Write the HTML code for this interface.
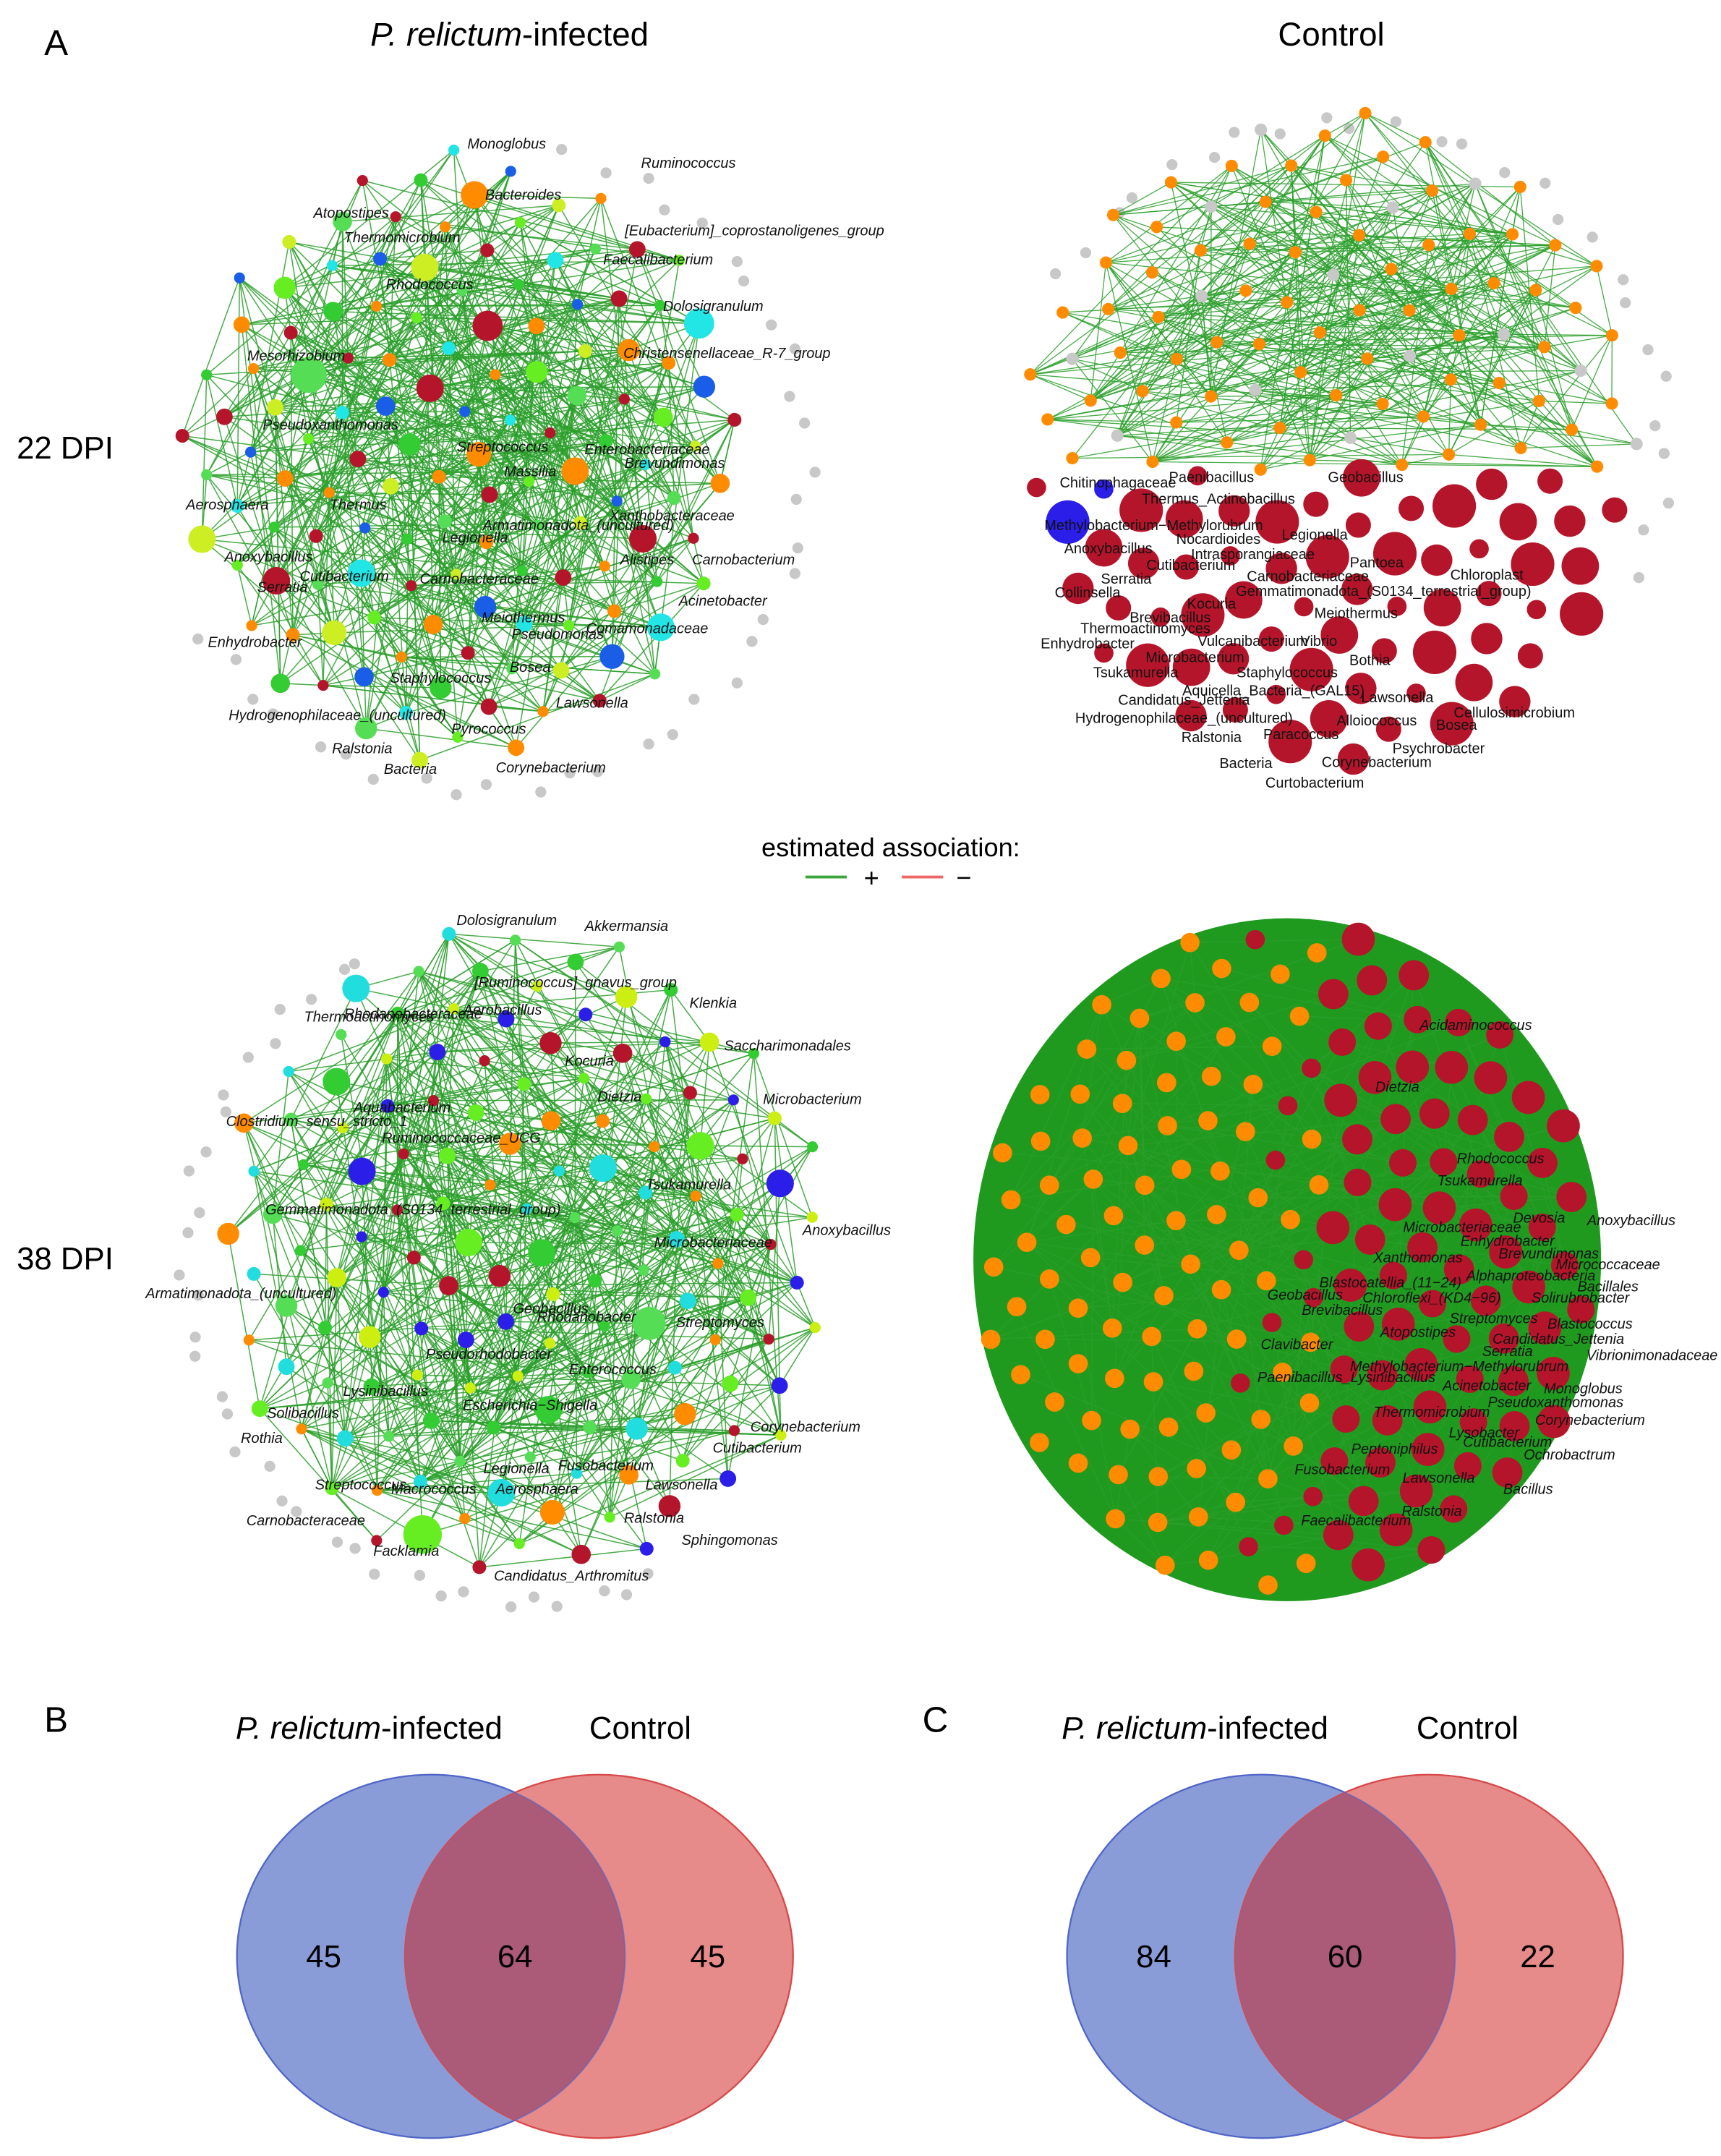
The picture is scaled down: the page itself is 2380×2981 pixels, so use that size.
<!DOCTYPE html>
<html><head><meta charset="utf-8"><title>Network figure</title>
<style>
html,body{margin:0;padding:0;background:#fff;}
svg{display:block;}
text{font-family:"Liberation Sans",sans-serif;}
.lab{font-size:10.5px;font-style:italic;fill:#111;}
.lab2{font-size:10.5px;fill:#111;}
</style></head>
<body>
<svg id="fig" width="2380" height="2981" viewBox="0 0 1250 1566" xmlns="http://www.w3.org/2000/svg">
<text x="32" y="40" font-size="26">A</text>
<text x="370" y="33" font-size="24" text-anchor="middle"><tspan font-style="italic">P. relictum</tspan>-infected</text>
<text x="967" y="33" font-size="24" text-anchor="middle">Control</text>
<text x="12" y="333" font-size="23">22 DPI</text>
<text x="12" y="922" font-size="23">38 DPI</text>
<g id="nets"></g>
<g>
<text x="647" y="622" font-size="19" text-anchor="middle">estimated association:</text>
<line x1="585" y1="637" x2="615" y2="637" stroke="#3aa53a" stroke-width="2"/>
<text x="633" y="644" font-size="19" text-anchor="middle">+</text>
<line x1="655" y1="637" x2="685" y2="637" stroke="#ee6666" stroke-width="2"/>
<text x="700" y="644" font-size="19" text-anchor="middle">−</text>
</g>
<text x="32" y="1258" font-size="26">B</text>
<text x="670" y="1258" font-size="26">C</text>
<g id="venns"></g>
</svg>
<script>
// Venn data
const vennSets = ["P. relictum-infected", "Control"];
const vennB = [45, 64, 45];
const vennC = [84, 60, 22];

// network node counts & labels
const net1Count = 130, net2Count = 150, net3Count = 140, net4Count = 175;
const net1Palette = ["#ff8c00","#b5152b","#33cc33","#ff8c00","#66ee22","#22e5e5","#1a5ee8","#ccee22","#55dd55","#b5152b"];
const net3Palette = ["#33cc33","#ccee11","#2a1ee8","#b5152b","#66ee22","#ff8c00","#22dddd","#55dd55"];
const net1Labels = [["Monoglobus",368,108],["Ruminococcus",500,122],["Bacteroides",380,145],["Atopostipes",255,158],["Thermomicrobium",292,176],["[Eubacterium]_coprostanoligenes_group",548,171],["Faecalibacterium",478,192],["Rhodococcus",312,210],["Dolosigranulum",518,226],["Mesorhizobium",215,262],["Christensenellaceae_R-7_group",528,260],["Pseudoxanthomonas",240,312],["Streptococcus",365,328],["Enterobacteriaceae",470,330],["Massilia",385,346],["Brevundimonas",490,340],["Aerosphaera",165,370],["Thermus",260,370],["Xanthobacteraceae",488,378],["Armatimonadota_(uncultured)",420,385],["Legionella",345,394],["Anoxybacillus",195,408],["Alistipes",470,410],["Carnobacterium",540,410],["Cutibacterium",250,422],["Carnobacteraceae",348,424],["Serratia",205,430],["Acinetobacter",525,440],["Meiothermus",380,452],["Comamonadaceae",470,460],["Enhydrobacter",185,470],["Pseudomonas",405,464],["Staphylococcus",320,496],["Bosea",385,488],["Lawsonella",430,514],["Hydrogenophilaceae_(uncultured)",245,523],["Pyrococcus",355,533],["Ralstonia",263,547],["Corynebacterium",400,561],["Bacteria",298,562]];
const net2Labels = [["Chitinophagaceae",812,354],["Paenibacillus",880,350],["Geobacillus",992,350],["Thermus_Actinobacillus",885,366],["Methylobacterium−Methylorubrum",838,385],["Legionella",955,392],["Anoxybacillus",805,402],["Nocardioides",885,395],["Intrasporangiaceae",910,406],["Cutibacterium",865,414],["Pantoea",1000,412],["Carnobacteriaceae",950,422],["Chloroplast",1080,421],["Serratia",818,424],["Gemmatimonadota_(S0134_terrestrial_group)",1005,433],["Collinsella",790,434],["Kocuria",880,442],["Brevibacillus",850,452],["Meiothermus",985,449],["Thermoactinomyces",832,460],["Vulcanibacterium",910,469],["Vibrio",958,469],["Enhydrobacter",790,471],["Microbacterium",868,481],["Bothia",995,483],["Tsukamurella",825,492],["Staphylococcus",935,492],["Aquicella_Bacteria_(GAL15)",925,505],["Candidatus_Jettenia",860,512],["Lawsonella",1015,510],["Cellulosimicrobium",1100,521],["Hydrogenophilaceae_(uncultured)",860,525],["Alloiococcus",1000,527],["Bosea",1058,530],["Ralstonia",880,539],["Paracoccus",945,537],["Psychrobacter",1045,547],["Corynebacterium",1000,557],["Bacteria",905,558],["Curtobacterium",955,572]];
const net3Labels = [["Dolosigranulum",368,672],["Akkermansia",455,676],["[Ruminococcus]_gnavus_group",418,717],["Klenkia",518,732],["Thermoactinomyces",268,742],["Rhodanobacteraceae",300,740],["Aerobacillus",365,737],["Saccharimonadales",572,763],["Kocuria",428,774],["Dietzia",450,800],["Microbacterium",590,802],["Aquabacterium",292,808],["Clostridium_sensu_stricto_1",230,818],["Ruminococcaceae_UCG",335,830],["Tsukamurella",500,864],["Gemmatimonadota_(S0134_terrestrial_group)",300,882],["Anoxybacillus",615,897],["Microbacteriaceae",518,906],["Armatimonadota_(uncultured)",175,943],["Geobacillus",400,954],["Rhodanobacter",426,960],["Streptomyces",523,964],["Pseudorhodobacter",355,987],["Enterococcus",445,998],["Lysinibacillus",280,1014],["Escherichia−Shigella",385,1024],["Solibacillus",220,1030],["Corynebacterium",585,1040],["Rothia",190,1048],["Cutibacterium",550,1055],["Legionella",375,1070],["Fusobacterium",440,1068],["Streptococcus",262,1082],["Macrococcus",315,1085],["Aerosphaera",390,1085],["Lawsonella",495,1082],["Carnobacteraceae",222,1108],["Ralstonia",475,1106],["Sphingomonas",530,1122],["Facklamia",295,1130],["Candidatus_Arthromitus",415,1148]];
const net4Labels = [["Acidaminococcus",1072,748],["Dietzia",1015,793],["Rhodococcus",1090,845],["Tsukamurella",1075,861],["Microbacteriaceae",1062,895],["Devosia",1118,888],["Anoxybacillus",1185,890],["Enhydrobacter",1095,905],["Xanthomonas",1030,917],["Brevundimonas",1125,914],["Micrococcaceae",1168,922],["Alphaproteobacteria",1112,930],["Blastocatellia_(11−24)",1010,935],["Bacillales",1168,938],["Geobacillus",948,944],["Chloroflexi_(KD4−96)",1040,946],["Solirubrobacter",1148,946],["Brevibacillus",975,955],["Streptomyces",1085,961],["Blastococcus",1155,965],["Candidatus_Jettenia",1132,976],["Atopostipes",1030,971],["Serratia",1095,985],["Vibrionimonadaceae",1200,988],["Clavibacter",942,980],["Methylobacterium−Methylorubrum",1060,996],["Paenibacillus_Lysinibacillus",978,1004],["Acinetobacter",1080,1010],["Monoglobus",1150,1012],["Pseudoxanthomonas",1130,1022],["Thermomicrobium",1040,1029],["Corynebacterium",1155,1035],["Lysobacter",1078,1044],["Cutibacterium",1095,1051],["Peptoniphilus",1013,1056],["Ochrobactrum",1140,1060],["Fusobacterium",975,1071],["Lawsonella",1045,1077],["Bacillus",1110,1085],["Ralstonia",1040,1101],["Faecalibacterium",985,1108]];
const nodeSizes = [4,5,4,6,8,4,5,10,4,6,4,5,7,4];

const NS="http://www.w3.org/2000/svg";
function mk(tag,attrs,parent){const e=document.createElementNS(NS,tag);for(const k in attrs)e.setAttribute(k,attrs[k]);parent.appendChild(e);return e;}
function layout(n,cx,cy,rx,ry){const pts=[];for(let i=0;i<n;i++){const r=Math.sqrt((i+0.5)/n);const t=i*2.39996;pts.push([cx+rx*r*Math.cos(t),cy+ry*r*Math.sin(t)]);}return pts;}
const nets=document.getElementById('nets');

function drawNet(name,pts,colorFn,sizeFn,edgeOffsets,maxD,edgeFilter,labels,cls,ew){
  const g=mk('g',{},nets);
  
  
  const eg=mk('g',{stroke:'#2a9f2a','stroke-width':ew||0.7,'stroke-opacity':0.85},g);
  const n=pts.length;
  for(let i=0;i<n;i++){for(const o of edgeOffsets){const j=(i*7+o)%n;if(j===i)continue;
    const a=pts[i],b=pts[j];const d=Math.hypot(a[0]-b[0],a[1]-b[1]);
    if(d<maxD&&edgeFilter(i,j)){const l=mk('line',{x1:a[0],y1:a[1],x2:b[0],y2:b[1]},eg);}}}
  const ng=mk('g',{},g);
  pts.forEach((p,i)=>{const c=mk('circle',{cx:p[0],cy:p[1],r:sizeFn(i,p),fill:colorFn(i,p)},ng);
    
    });
  labels.forEach(L=>{const t=mk('text',{x:L[1],y:L[2],'text-anchor':'middle','class':cls},g);t.textContent=L[0];
    
    });
}
function grayRing(cx,cy,R,count,a0,a1){const g=mk('g',{fill:'#c8c8c8'},nets);
  for(let k=0;k<count;k++){const t=a0+(a1-a0)*k/(count-1);const c=mk('circle',{cx:cx+R*Math.cos(t)+(k%3)*6,cy:cy+R*Math.sin(t)+(k%2)*8,r:4},g);
    
    }}

// Network 1 (22 DPI infected)
grayRing(345,335,235,34,-1.3,2.6);
const p1=layout(net1Count,335,330,205,225);
drawNet('network-22dpi-infected',p1,(i)=>net1Palette[(i*3)%net1Palette.length],(i)=>nodeSizes[i%nodeSizes.length]+(i%23===0?5:0),[3,11,29,53,67,89,101],280,()=>true,net1Labels,'lab',0.8);

// Network 2 (22 DPI control)
grayRing(968,320,235,26,-2.6,0.4);
const p2=layout(net2Count,968,318,225,240);
drawNet('network-22dpi-control',p2,(i,p)=>p[1]>345?(i%17===0?'#2a1ee8':'#b5152b'):(i%6===0?'#c8c8c8':'#ff8c00'),(i,p)=>p[1]>345?7+(i%5)*2.2:4.5,[3,11,29,53,71,97,113,131],360,(i,j)=>p2[i][1]<345&&p2[j][1]<345,net2Labels,'lab2',0.7);

// Network 3 (38 DPI infected)
grayRing(380,910,250,34,1.2,4.2);
const p3=layout(net3Count,380,910,225,240);
drawNet('network-38dpi-infected',p3,(i)=>net3Palette[(i*3)%net3Palette.length],(i)=>nodeSizes[(i+3)%nodeSizes.length]+(i%29===0?4:0),[5,13,31,47,61,83,107],280,()=>true,net3Labels,'lab',0.8);

// Network 4 (38 DPI control)
mk('ellipse',{cx:935,cy:915,rx:228,ry:248,fill:'#1f9a1f',},nets);
const p4=layout(net4Count,935,915,222,245);
drawNet('network-38dpi-control',p4,(i,p)=>p[0]>960?'#b5152b':(p[0]>900&&i%3===0?'#b5152b':'#ff8c00'),(i,p)=>p[0]>960?10+(i%3):7,[3,11,29,53],200,()=>true,net4Labels,'lab');

// Venns
const vg=document.getElementById('venns');
function venn(name,cxL,cxR,vals,titleX1,titleX2){
  const g=mk('g',{},vg);
  
  
  const t1=mk('text',{x:titleX1,y:1263,'font-size':23,'text-anchor':'middle'},g);
  t1.innerHTML='<tspan font-style="italic">P. relictum</tspan>-infected';
  
  
  const t2=mk('text',{x:titleX2,y:1263,'font-size':23,'text-anchor':'middle'},g);t2.textContent=vennSets[1];
  
  
  const a=mk('ellipse',{cx:cxL,cy:1421,rx:141,ry:132,fill:'#8a9cd8',stroke:'#5066c8','stroke-width':1.2},g);
  
  
  const b=mk('ellipse',{cx:cxR,cy:1421,rx:141,ry:132,fill:'#e68a8a',stroke:'#d84848','stroke-width':1.2},g);
  
  
  const cid='clip'+name;const cp=mk('clipPath',{id:cid},g);mk('ellipse',{cx:cxL,cy:1421,rx:141,ry:132},cp);
  const o=mk('ellipse',{cx:cxR,cy:1421,rx:141,ry:132,fill:'#ab5a77','clip-path':'url(#'+cid+')'},g);
  
  
  mk('ellipse',{cx:cxL,cy:1421,rx:141,ry:132,fill:'none',stroke:'#5066c8','stroke-width':1,'stroke-opacity':0.6},g);
  const xs=[cxL-78,(cxL+cxR)/2,cxR+79];
  vals.forEach((v,k)=>{const t=mk('text',{x:xs[k],y:1429,'font-size':23,'text-anchor':'middle'},g);t.textContent=v;
    
    });
}
venn('venn-b',313,435,vennB,268,465);
venn('venn-c',916,1038,vennC,868,1066);
</script>
</body></html>
